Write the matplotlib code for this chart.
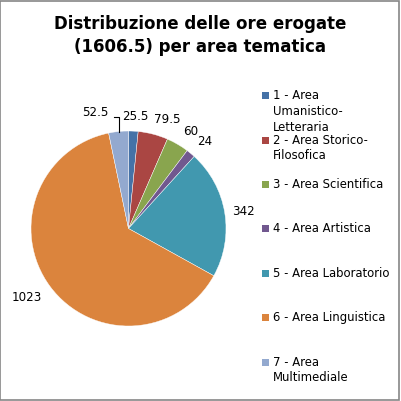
import numpy as np
import matplotlib
matplotlib.use('Agg')
import matplotlib.pyplot as plt
from matplotlib.patches import Rectangle

# data
labels = ['1 - Area\nUmanistico-\nLetteraria', '2 - Area Storico-\nFilosofica',
          '3 - Area Scientifica', '4 - Area Artistica', '5 - Area Laboratorio',
          '6 - Area Linguistica', '7 - Area\nMultimediale']
values = [25.5, 79.5, 60, 24, 342, 1023, 52.5]
value_text = ['25.5', '79.5', '60', '24', '342', '1023', '52.5']

colors = ['#4572A7', '#AA4643', '#89A54E', '#71588F', '#4198AF', '#DB843D', '#93A9CF']
# where the data labels sit (pie radius units)
label_pos = [(0.067, 1.144), (0.40, 1.123), (0.641, 0.99), (0.785, 0.897),
             (1.174, 0.179), (-1.044, -0.703), (-0.338, 1.185)]

fig = plt.figure(figsize=(4.01, 4.01), dpi=100)
fig.patch.set_facecolor('white')
fig.add_artist(Rectangle((0.001, 0.003), 0.995, 0.995, transform=fig.transFigure,
                         fill=False, edgecolor='#868686', lw=1.2))

fig.text(0.5, 0.912, 'Distribuzione delle ore erogate\n(1606.5) per area tematica',
         ha='center', va='center', fontsize=12, fontweight='bold', linespacing=1.32)

ax = fig.add_axes([0.0773, 0.187, 0.4863, 0.4863])
wedges, _ = ax.pie(values, colors=colors, startangle=90, counterclock=False,
                   radius=1, wedgeprops=dict(edgecolor='white', linewidth=0.3))
ax.set_xlim(-1, 1)
ax.set_ylim(-1, 1)
ax.set_aspect('equal')

for i, w in enumerate(wedges):
    x, y = label_pos[i]
    ax.text(x, y, value_text[i], ha='center', va='center', fontsize=8.6, clip_on=False)

# leader line for the small light blue slice
w = wedges[6]
mid = np.deg2rad((w.theta1 + w.theta2) / 2)
mx, my = np.cos(mid), np.sin(mid)
lx, ly = label_pos[6]
ax.plot([lx + 0.19, mx, mx], [ly - 0.04, ly - 0.04, my], color='black', lw=0.8,
        clip_on=False)

# legend
y0 = 95.7
step = 44.4
for i, lab in enumerate(labels):
    yc = y0 + i * step
    fig.add_artist(Rectangle((262 / 401, 1 - (yc + 3.5) / 401), 7 / 401, 7 / 401,
                             transform=fig.transFigure, facecolor=colors[i],
                             edgecolor='none'))
    fig.text(273 / 401, 1 - (yc - 6.5) / 401, lab, ha='left', va='top',
             fontsize=8.4, linespacing=1.27)

fig.savefig('out.png', dpi=100)
